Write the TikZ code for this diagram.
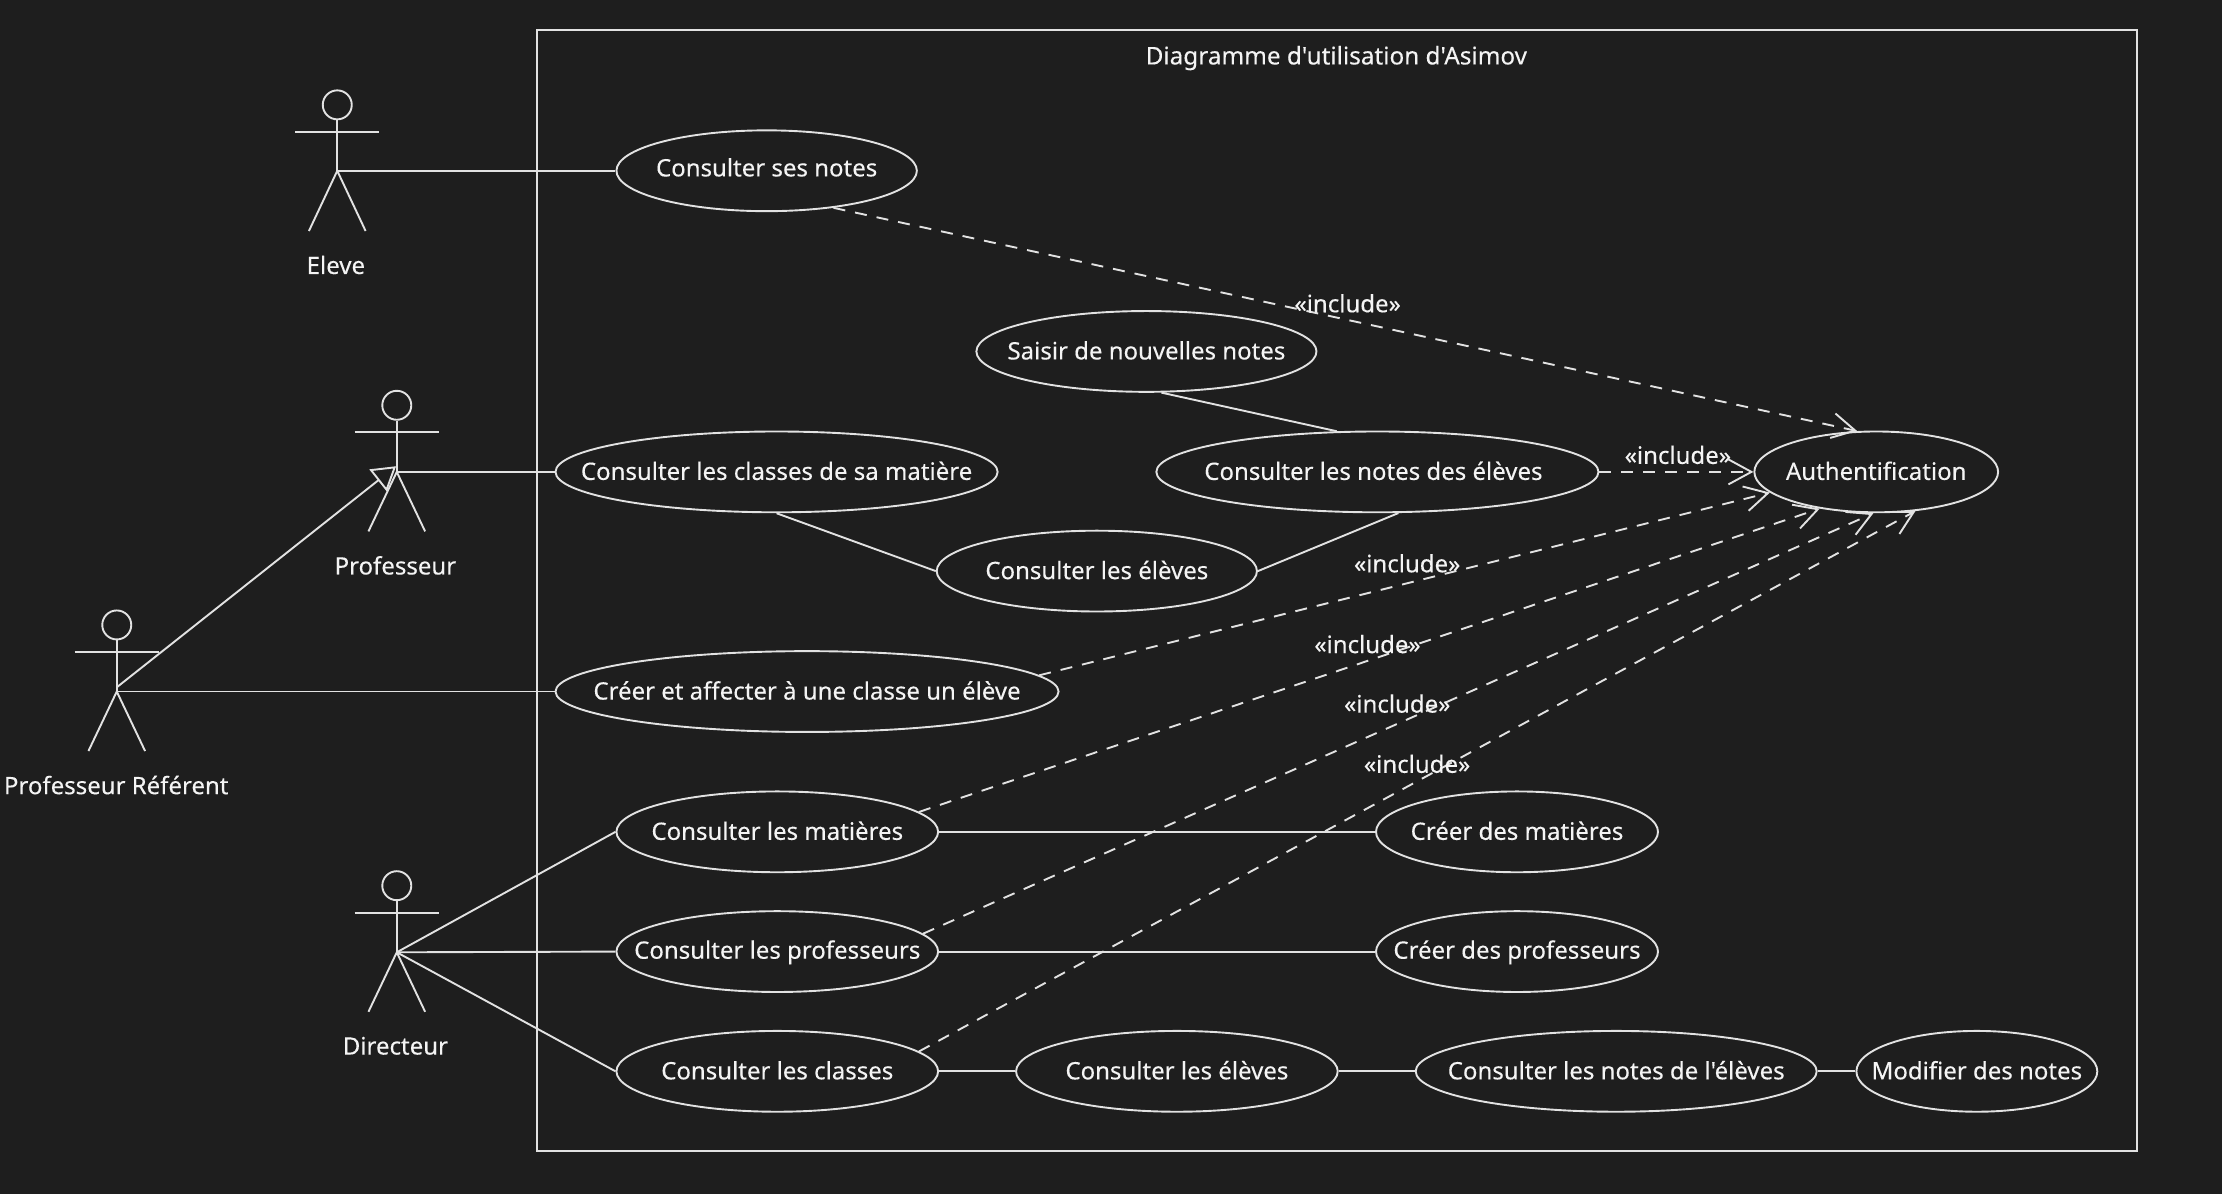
\documentclass[tikz,border=0pt]{standalone}
\usepackage{fontspec}
\setmainfont[Ligatures=TeXOff,FakeBold=0.2]{Noto Sans}
\usetikzlibrary{arrows.meta,shapes.geometric}
\definecolor{bg}{HTML}{1E1E1E}
\definecolor{ink}{HTML}{E2E2E2}
\definecolor{txt}{HTML}{F4F4F4}
\newcommand{\uc}[1]{\hbox to 0pt{\hss\rule[-4pt]{0pt}{24pt}#1\hss}}
\newcommand{\ucup}[1]{\hbox to 0pt{\hss\rule[-7pt]{0pt}{23pt}#1\hss}}
\tikzset{
  x=1.4171pt,y=-1.4171pt,
  wire/.style={draw=ink,line width=1.9pt},
  usecase/.style={ellipse,draw=ink,line width=1.9pt,inner sep=0pt,minimum height=80.8pt,minimum width=#1*1.4171pt,text=txt,font=\fontsize{24}{28}\selectfont},
  head/.style={circle,draw=ink,line width=1.9pt,inner sep=0pt,minimum size=29pt},
  label/.style={text=txt,font=\fontsize{24}{28}\selectfont,inner sep=0pt},
  incl/.style={draw=ink,line width=1.9pt,dash pattern=on 12pt off 10pt,-{Straight Barb[length=23pt,width=25pt,line width=1.9pt]}},
  gener/.style={draw=ink,line width=1.9pt,-{Triangle[open,length=23pt,width=28pt,line width=1.9pt]}}
}
\begin{document}
\begin{tikzpicture}
\path[fill=bg,use as bounding box] (0,0) rectangle (1568,842.56);

% frame
\node[draw=ink,line width=1.9pt,inner sep=0pt,minimum width=1129*1.4171pt,minimum height=791*1.4171pt] (frame) at (943.5,416.5) {};
\node[label,font=\fontsize{24.3}{28}\selectfont] (title) at (943,41) {Diagramme d'utilisation d'Asimov};

% use cases
\node[usecase=212] (notes) at (541,120.5) {\ucup{Consulter ses notes}};
\node[usecase=240] (saisir) at (809,248) {\uc{Saisir de nouvelles notes}};
\node[usecase=312] (clmat) at (548,333) {\uc{Consulter les classes de sa matière}};
\node[usecase=312] (noteleves) at (972,333) {\uc{\kern-8pt Consulter les notes des élèves}};
\node[usecase=172] (auth) at (1324,333) {\uc{Authentification}};
\node[usecase=226] (eleves) at (774,403) {\uc{Consulter les élèves}};
\node[usecase=355] (creer) at (569.5,488) {\uc{Créer et affecter à une classe un élève}};
\node[usecase=227] (mat) at (548.5,587) {\uc{Consulter les matières}};
\node[usecase=199] (cmat) at (1070.5,587) {\uc{Créer des matières}};
\node[usecase=227] (prof) at (548.5,671.5) {\uc{Consulter les professeurs}};
\node[usecase=199] (cprof) at (1070.5,671.5) {\uc{Créer des professeurs}};
\node[usecase=227] (cl) at (548.5,756) {\uc{Consulter les classes}};
\node[usecase=227] (eleves2) at (830.5,756) {\uc{Consulter les élèves}};
\node[usecase=283] (notes2) at (1140.5,756) {\uc{Consulter les notes de l'élèves}};
\node[usecase=170] (modif) at (1395,756) {\uc{Modifier des notes}};

% actors
\foreach \n/\cx/\hy/\ay/\py/\fy in {A/238/74/93/120.5/163, B/280/286/305/333/375, C/82.4/441/460/488/530, D/280/625/644/672/714}{
  \node[head] (\n h) at (\cx,\hy) {};
  \coordinate (\n hip) at (\cx,\py);
  \coordinate (\n neck) at (\cx,\ay);
  \coordinate (\n fl) at (\cx-20,\fy);
  \coordinate (\n fr) at (\cx+20,\fy);
  \coordinate (\n al) at (\cx-29.7,\ay);
  \coordinate (\n ar) at (\cx+29.7,\ay);
  \draw[wire] (\n h.south) -- (\n hip);
  \draw[wire] (\n al) -- (\n ar);
  \draw[wire] (\n fl) -- (\n hip) -- (\n fr);
}
\node[label] (lA) at (237,187) {Eleve};
\node[label] (lB) at (279,399) {Professeur};
\node[label] (lC) at (82,554) {Professeur Référent};
\node[label] (lD) at (279,738) {Directeur};

% associations
\draw[wire] (Ahip) -- (notes.west);
\draw[wire] (Bhip) -- (clmat.west);
\draw[wire] (Chip) -- (creer.west);
\draw[wire] (Dhip) -- (mat.west);
\draw[wire] (Dhip) -- (prof.west);
\draw[wire] (Dhip) -- (cl.west);
\coordinate (gtail) at (82.4,485);
\coordinate (gtip) at (279.5,329);
\draw[gener] (gtail) -- (gtip);

% plain links
\draw[wire] (saisir.-70.3) -- (noteleves.135.5);
\draw[wire] (clmat.south) -- (eleves.west);
\draw[wire] (eleves.east) -- (noteleves.-63.4);
\draw[wire] (mat.east) -- (cmat.west);
\draw[wire] (prof.east) -- (cprof.west);
\draw[wire] (cl.east) -- (eleves2.west);
\draw[wire] (eleves2.east) -- (notes2.west);
\draw[wire] (notes2.east) -- (modif.west);

% include links
\draw[incl] (notes.-29.3) -- (auth.115.6);
\draw[incl] (noteleves.east) -- (auth.west);
\draw[incl] (creer.4.9) -- (auth.191.5);
\draw[incl] (mat.8.2) -- (auth.213);
\draw[incl] (prof.7.9) -- (auth.266);
\draw[incl] (cl.8.2) -- (auth.-45);

\node[label] (i1) at (951,214) {«include»};
\node[label] (i2) at (1184,321) {«include»};
\node[label] (i3) at (993,397.5) {«include»};
\node[label] (i4) at (965,454.5) {«include»};
\node[label] (i5) at (986,496.5) {«include»};
\node[label] (i6) at (1000,539) {«include»};
\end{tikzpicture}
\end{document}
